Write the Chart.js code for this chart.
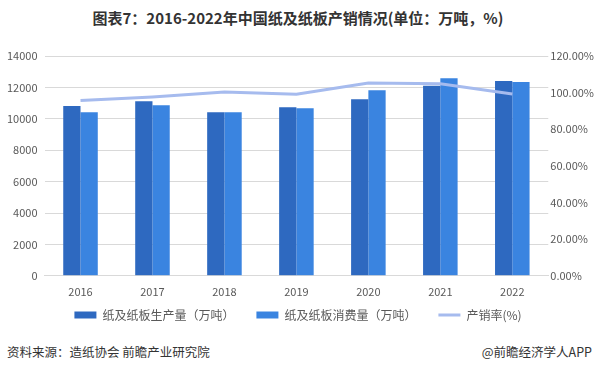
<!DOCTYPE html>
<html>
<head>
<meta charset="utf-8">
<script src="https://cdn.jsdelivr.net/npm/chart.js@4.4.1/dist/chart.umd.min.js"></script>
<style>
  body { margin: 0; background: #fff; font-family: "Noto Sans CJK SC", sans-serif; }
  #wrap { position: relative; width: 596px; height: 375px; }
  #title { position: absolute; top: 7px; left: 0; width: 596px; text-align: center;
           font-size: 15px; font-weight: bold; color: #333; }
  #chartBox { position: absolute; left: 0; top: 38px; width: 596px; height: 293px; }
  .foot { position: absolute; top: 342px; font-size: 12.5px; color: #333; }
</style>
</head>
<body>
<div id="wrap">
  <div id="title">图表7：2016-2022年中国纸及纸板产销情况(单位：万吨，%)</div>
  <div id="chartBox"><canvas id="myChart"></canvas></div>
  <div class="foot" style="left:7px;">资料来源：造纸协会 前瞻产业研究院</div>
  <div class="foot" style="right:4px;">@前瞻经济学人APP</div>
</div>
<script>
const years = ["2016", "2017", "2018", "2019", "2020", "2021", "2022"];
const production = [10815, 11110, 10410, 10730, 11240, 12110, 12400];
const consumption = [10410, 10860, 10410, 10670, 11820, 12590, 12340];
const ratio = [95.7, 97.6, 100.3, 99.1, 105.2, 104.9, 99.2];

const leftTicks = [0, 2000, 4000, 6000, 8000, 10000, 12000, 14000];
const rightTicks = [0, 20, 40, 60, 80, 100, 120];

const font = { family: '"Noto Sans CJK SC", sans-serif', size: 11 };

const ctx = document.getElementById('myChart').getContext('2d');
const chart = new Chart(ctx, {
  data: {
    labels: years,
    datasets: [
      {
        type: 'line',
        label: '产销率(%)',
        data: ratio,
        yAxisID: 'y1',
        borderColor: '#a6bbee',
        backgroundColor: '#a6bbee',
        borderWidth: 3,
        pointRadius: 0,
        tension: 0,
        pointStyle: 'line',
        order: 0
      },
      {
        type: 'bar',
        label: '纸及纸板生产量（万吨）',
        data: production,
        yAxisID: 'y',
        backgroundColor: '#2e69c0',
        pointStyle: 'rect',
        barPercentage: 1,
        categoryPercentage: 0.48,
        order: 1
      },
      {
        type: 'bar',
        label: '纸及纸板消费量（万吨）',
        data: consumption,
        yAxisID: 'y',
        backgroundColor: '#3a84e0',
        pointStyle: 'rect',
        barPercentage: 1,
        categoryPercentage: 0.48,
        order: 1
      }
    ]
  },
  options: {
    responsive: true,
    maintainAspectRatio: false,
    animation: false,
    layout: { padding: { left: 0, right: 0, top: 18, bottom: 0 } },
    plugins: {
      legend: {
        position: 'bottom',
        labels: {
          usePointStyle: true,
          pointStyleWidth: 22,
          boxHeight: 7,
          padding: 10,
          color: '#595959',
          font: { family: '"Noto Sans CJK SC", sans-serif', size: 12 },
          generateLabels: c => {
            const items = Chart.defaults.plugins.legend.labels.generateLabels(c);
            items.forEach(it => { if (it.datasetIndex !== 0) it.text = it.text + '\u2002\u2002'; });
            return items;
          },
          sort: (a, b) => {
            const orderIdx = [2, 0, 1];
            return orderIdx[a.datasetIndex] - orderIdx[b.datasetIndex];
          }
        }
      },
      tooltip: { enabled: false }
    },
    scales: {
      x: {
        grid: { display: false },
        border: { color: '#d9d9d9' },
        ticks: { padding: 1, color: '#595959', font: font }
      },
      y: {
        position: 'left',
        min: 0,
        max: 14000,
        afterBuildTicks: axis => { axis.ticks = leftTicks.map(v => ({ value: v })); },
        grid: { color: '#d9d9d9', drawTicks: false },
        border: { display: false },
        ticks: { padding: 7, color: '#595959', font: font, callback: v => String(v) }
      },
      y1: {
        position: 'right',
        min: 0,
        max: 120,
        afterBuildTicks: axis => { axis.ticks = rightTicks.map(v => ({ value: v })); },
        grid: { display: false, drawTicks: false },
        border: { display: false },
        ticks: {
          padding: 2,
          color: '#595959',
          font: font,
          callback: v => v.toFixed(2) + '%'
        }
      }
    }
  }
});
</script>
</body>
</html>
